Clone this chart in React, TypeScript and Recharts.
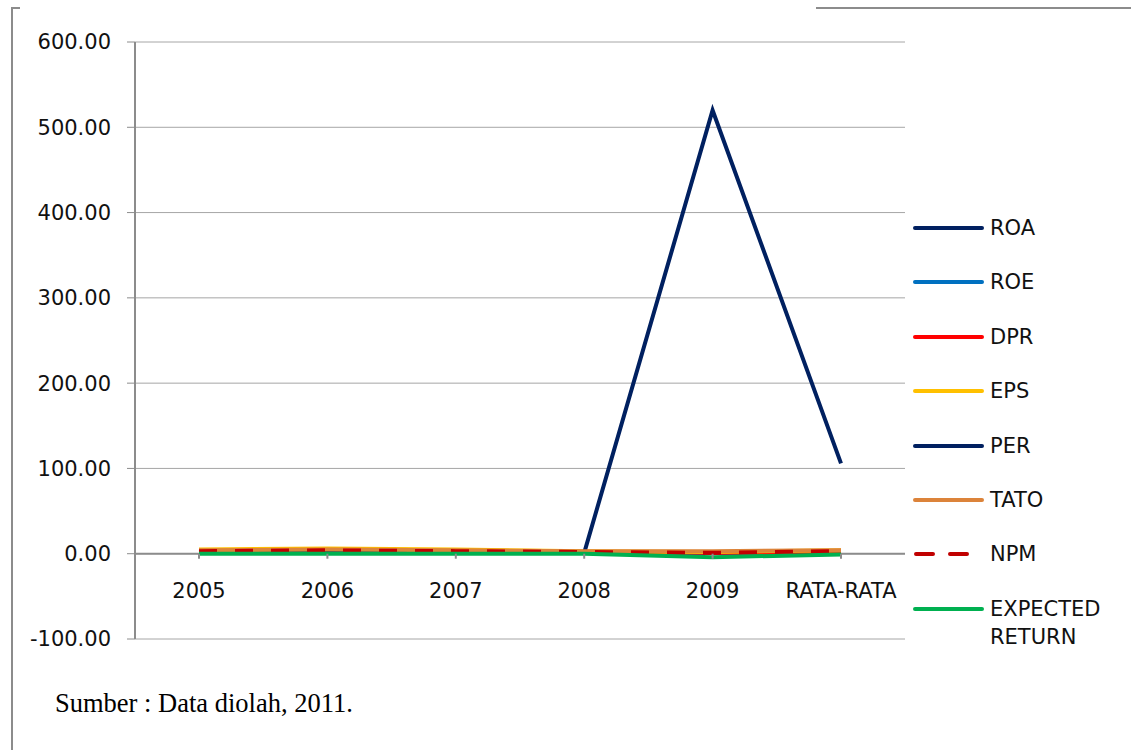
import React from 'react';
import { LineChart, Line, XAxis, YAxis, CartesianGrid, ReferenceLine } from 'recharts';

// kategori sumbu X
const categories = ['2005', '2006', '2007', '2008', '2009', 'RATA-RATA'];

// nilai tiap rasio
const roa = [3, 4, 3, 2, 1, 2];
const roe = [4, 5, 4, 2, 1, 3];
const dpr = [3, 4, 3, 2, 1, 2];
const eps = [5, 6, 5, 3, 2, 4];
const per = [3, 4, 3, 1, 520, 106];
const tato = [4, 5, 4, 3, 3, 4];
const npm = [3, 4, 3, 2, 1, 3];
const expectedReturn = [0, 0, 0, 0, -4, -1];

const yTicks = [-100, 0, 100, 200, 300, 400, 500, 600];

const series = [
  { key: 'roa', name: 'ROA', color: '#002060', values: roa },
  { key: 'roe', name: 'ROE', color: '#0070C0', values: roe },
  { key: 'dpr', name: 'DPR', color: '#FF0000', values: dpr },
  { key: 'eps', name: 'EPS', color: '#FFC000', values: eps },
  { key: 'per', name: 'PER', color: '#002060', values: per },
  { key: 'tato', name: 'TATO', color: '#DC833A', values: tato },
  { key: 'npm', name: 'NPM', color: '#C00000', values: npm, dash: '18 18' },
  { key: 'er', name: 'EXPECTED RETURN', color: '#00B050', values: expectedReturn },
];

const data = categories.map((name, i) => {
  const row: Record<string, string | number> = { name };
  series.forEach((s) => (row[s.key] = s.values[i]));
  return row;
});

const W = 1131;
const H = 750;
const TOP = 42;
const PLOT_BOTTOM = 639;
const PLOT_RIGHT = 905;
const Y_MIN = -100;
const Y_MAX = 600;
const FONT = '"DejaVu Sans", sans-serif';
const FS = 21;

// label kategori diletakkan di garis nol, bukan di bawah plot
const XTick = (props: any) => {
  const { x, y, payload } = props;
  const plotH = PLOT_BOTTOM - TOP;
  const zeroY = y - (plotH * (0 - Y_MIN)) / (Y_MAX - Y_MIN);
  return (
    <g>
      <line x1={x} x2={x} y1={zeroY} y2={zeroY + 5} stroke="#8c8c8c" strokeWidth={2} />
      <text x={x} y={zeroY + 44} textAnchor="middle" fontSize={FS} fontFamily={FONT} fill="#111">
        {payload.value}
      </text>
    </g>
  );
};

const LegendList = () => (
  <div style={{ position: 'absolute', left: 912, top: 214, width: 219, fontFamily: FONT, fontSize: FS, color: '#111' }}>
    {series.map((s) => (
      <div key={s.key} style={{ display: 'flex', alignItems: 'flex-start', height: 54.4 }}>
        <svg width={78} height={28} style={{ flex: 'none' }}>
          {s.dash ? (
            <line x1={4} x2={56} y1={14} y2={14} stroke={s.color} strokeWidth={4} strokeLinecap="round" strokeDasharray="17 17" />
          ) : (
            <line x1={3} x2={70} y1={14} y2={14} stroke={s.color} strokeWidth={4} strokeLinecap="round" />
          )}
        </svg>
        <span style={{ lineHeight: '28px', width: 125 }}>{s.name}</span>
      </div>
    ))}
  </div>
);

const App: React.FC = () => {
  return (
    <div style={{ position: 'absolute', left: 0, top: 0, width: W, height: H, background: '#fff' }}>
      {/* garis tepi bingkai */}
      <div style={{ position: 'absolute', left: 11, top: 7, width: 2, height: H - 7, background: '#8c8c8c' }} />
      <div style={{ position: 'absolute', left: 11, top: 7, width: 9, height: 2, background: '#8c8c8c' }} />
      <div style={{ position: 'absolute', left: 816, top: 7, width: W - 816, height: 2, background: '#8c8c8c' }} />

      <LineChart
        width={W}
        height={H}
        data={data}
        margin={{ top: TOP, right: W - PLOT_RIGHT, bottom: H - PLOT_BOTTOM - 30, left: 0 }}
      >
        <CartesianGrid vertical={false} stroke="#a6a6a6" strokeWidth={1} />
        <XAxis
          dataKey="name"
          height={30}
          axisLine={false}
          tickLine={false}
          tickSize={0}
          tickMargin={0}
          padding={{ left: 64, right: 64 }}
          tick={<XTick />}
          interval={0}
        />
        <YAxis
          width={135}
          domain={[Y_MIN, Y_MAX]}
          ticks={yTicks}
          allowDataOverflow
          tickFormatter={(v: number) => v.toFixed(2)}
          tickSize={8}
          tickMargin={16}
          axisLine={{ stroke: '#8c8c8c', strokeWidth: 2 }}
          tickLine={{ stroke: '#8c8c8c', strokeWidth: 1 }}
          tick={{ fontSize: FS, fontFamily: FONT, fill: '#111' }}
        />
        <ReferenceLine y={0} stroke="#8c8c8c" strokeWidth={2} />
        {series.map((s) => (
          <Line
            key={s.key}
            type="linear"
            dataKey={s.key}
            name={s.name}
            stroke={s.color}
            strokeWidth={4}
            strokeDasharray={s.dash}
            dot={false}
            activeDot={false}
            isAnimationActive={false}
          />
        ))}
      </LineChart>

      <LegendList />

      <div
        style={{
          position: 'absolute',
          left: 55,
          top: 688,
          fontFamily: '"Liberation Serif", "Times New Roman", serif',
          fontSize: 26.5,
          color: '#000',
        }}
      >
        Sumber : Data diolah, 2011.
      </div>
    </div>
  );
};

export default App;
